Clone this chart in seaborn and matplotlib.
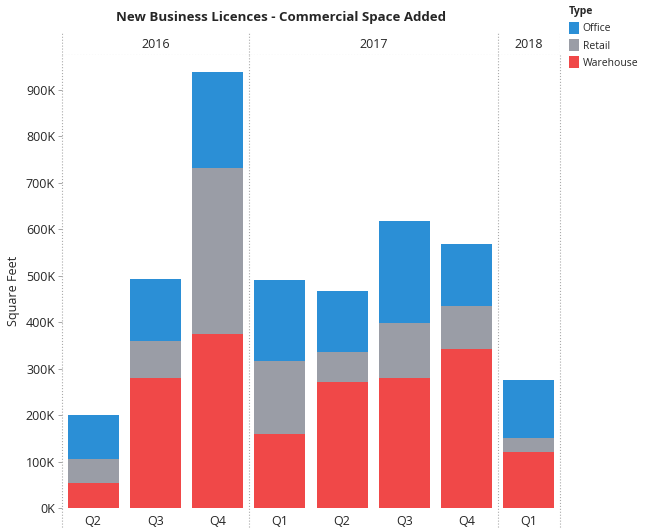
import pandas as pd
import numpy as np
import matplotlib.pyplot as plt
import seaborn as sns
from matplotlib.patches import Patch

# values (square feet)
years = ["2016", "2016", "2016", "2017", "2017", "2017", "2017", "2018"]
quarters = ["Q2", "Q3", "Q4", "Q1", "Q2", "Q3", "Q4", "Q1"]
warehouse = [54000, 280000, 374000, 159000, 271000, 280000, 342000, 120000]
retail = [51000, 79000, 357000, 157000, 64000, 118000, 92000, 30000]
office = [95000, 133000, 207000, 174000, 132000, 219000, 134000, 125000]

colors = {"Office": "#2b8fd6", "Retail": "#9a9da6", "Warehouse": "#f04848"}

df = pd.DataFrame({"Year": years, "Quarter": quarters,
                   "Warehouse": warehouse, "Retail": retail, "Office": office})
df["pos"] = [f"{y} {q}" for y, q in zip(years, quarters)]
df["wr"] = df["Warehouse"] + df["Retail"]
df["total"] = df["wr"] + df["Office"]

sns.set_style("white")
plt.rcParams["font.family"] = ["Open Sans", "DejaVu Sans"]

fig = plt.figure(figsize=(6.45, 5.29), dpi=100)
ax = fig.add_axes([62 / 645, 21 / 529, 498 / 645, 453 / 529])

# stacked bars: draw cumulative totals from the top layer down
for col, key in [("total", "Office"), ("wr", "Retail"), ("Warehouse", "Warehouse")]:
    sns.barplot(data=df, x="pos", y=col, color=colors[key], width=0.82,
                saturation=1, linewidth=0, ax=ax)

ax.set_xlim(-0.5, len(df) - 0.5)
ax.set_ylim(0, 975000)
ticks = np.arange(0, 1000000, 100000)
ax.set_yticks(ticks)
ax.set_yticklabels([f"{int(t / 1000)}K" for t in ticks], fontsize=9)
ax.set_xticks(range(len(df)))
ax.set_xticklabels(quarters, fontsize=9)
ax.tick_params(axis="x", length=0, pad=5)
ax.tick_params(axis="y", length=3, width=0.6, color="#999999", pad=2, left=True)
ax.set_xlabel("")
ax.set_ylabel("Square Feet", fontsize=9)
ax.yaxis.set_label_coords(-0.085, 0.48)
for s in ax.spines.values():
    s.set_visible(False)

# year separators
bounds = [-0.5, 2.5, 6.5, 7.5]
for b in bounds:
    ax.axvline(b, ymin=-0.05, ymax=1, color="#aaaaaa", lw=0.8, ls=":", clip_on=False)

# header row with year labels
hx = fig.add_axes([62 / 645, 474 / 529, 498 / 645, 22 / 529], sharex=ax)
hx.set_ylim(0, 1)
hx.axis("off")
for b in bounds:
    hx.axvline(b, color="#aaaaaa", lw=0.8, ls=":")
hx.axhline(0, color="#aaaaaa", lw=0.8, ls=":")
for yr, lo, hi in zip(["2016", "2017", "2018"], bounds[:-1], bounds[1:]):
    hx.text((lo + hi) / 2, 0.5, yr, ha="center", va="center", fontsize=9)

fig.text(0.435, 0.966, "New Business Licences - Commercial Space Added",
         ha="center", va="center", fontsize=9.5, fontweight="bold")

handles = [Patch(facecolor=colors[k], edgecolor="none") for k in ["Office", "Retail", "Warehouse"]]
leg = fig.legend(handles, ["Office", "Retail", "Warehouse"], title="Type",
                 loc="upper left", bbox_to_anchor=(0.872, 1.0), frameon=False,
                 fontsize=7.5, title_fontsize=7.5, handlelength=1.0, handleheight=1.4,
                 handletextpad=0.35, labelspacing=0.45, borderaxespad=0.2)
leg.get_title().set_fontweight("bold")
leg._legend_box.align = "left"

fig.savefig("out.png", dpi=100)
